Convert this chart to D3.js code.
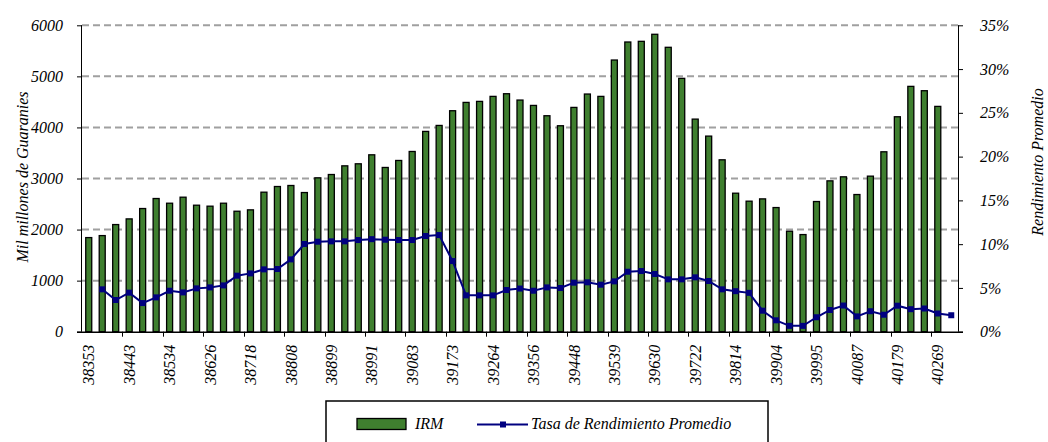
<!DOCTYPE html>
<html>
<head>
<meta charset="utf-8">
<script src="https://cdn.jsdelivr.net/npm/d3@7"></script>
<style>
  body { margin: 0; background: #fff; }
  svg text { font-style: italic; fill: #000; }
</style>
</head>
<body>
<svg id="chart" width="1048" height="442"></svg>
<script>
// categorias: fechas (numero de serie Excel), ene 2005 - may 2010
var fechas = [38353, 38384, 38412, 38443, 38473, 38504, 38534, 38565, 38596, 38626, 38657, 38687,
  38718, 38749, 38777, 38808, 38838, 38869, 38899, 38930, 38961, 38991, 39022, 39052,
  39083, 39114, 39142, 39173, 39203, 39234, 39264, 39295, 39326, 39356, 39387, 39417,
  39448, 39479, 39508, 39539, 39569, 39600, 39630, 39661, 39692, 39722, 39753, 39783,
  39814, 39845, 39873, 39904, 39934, 39965, 39995, 40026, 40057, 40087, 40118, 40148,
  40179, 40210, 40238, 40269, 40299];

// IRM (mil millones de guaranies)
var irm = [1843, 1882, 2098, 2209, 2412, 2608, 2516, 2634, 2477, 2458, 2516,
  2359, 2386, 2732, 2843, 2863, 2725, 3013, 3078, 3248, 3288, 3464,
  3216, 3353, 3529, 3922, 4039, 4327, 4490, 4510, 4608, 4660, 4536,
  4431, 4229, 4033, 4392, 4654, 4608, 5320, 5673, 5686, 5824,
  5569, 4961, 4163, 3830, 3366, 2712, 2556, 2601, 2431, 1967, 1902,
  2549, 2954, 3033, 2686, 3046, 3523, 4209, 4804, 4719, 4412, null];

// Tasa de rendimiento promedio (%)
var tasa = [null, 4.84, 3.62, 4.46, 3.27, 3.92, 4.68, 4.49, 4.95, 5.06, 5.29,
  6.40, 6.66, 7.12, 7.16, 8.26, 10.02, 10.28, 10.32, 10.32, 10.47, 10.57,
  10.51, 10.47, 10.47, 10.93, 11.04, 8.07, 4.15, 4.15, 4.15, 4.76, 4.93,
  4.68, 5.06, 4.99, 5.60, 5.64, 5.37, 5.75, 6.85, 6.93, 6.59,
  5.98, 5.98, 6.21, 5.79, 4.84, 4.63, 4.44, 2.40, 1.30, 0.67, 0.67,
  1.65, 2.48, 2.99, 1.75, 2.34, 1.94, 2.97, 2.57, 2.65, 2.08, 1.88];

var ticksIzq = [0, 1000, 2000, 3000, 4000, 5000, 6000];
var ticksDer = [0, 5, 10, 15, 20, 25, 30, 35];
var etiquetasX = [38353, 38443, 38534, 38626, 38718, 38808, 38899, 38991, 39083, 39173, 39264,
  39356, 39448, 39539, 39630, 39722, 39814, 39904, 39995, 40087, 40179, 40269];

var fuente = "16px";
var familia = "'Liberation Serif', 'Times New Roman', serif";
var svg = d3.select("#chart");
var izq = 82, der = 958, arriba = 25.3, abajo = 331.7;

var x = d3.scaleBand().domain(fechas).range([izq, der]).padding(0);
var y = d3.scaleLinear().domain([0, 6000]).range([abajo, arriba]);
var y2 = d3.scaleLinear().domain([0, 35]).range([abajo, arriba]);

// grilla
svg.append("g").selectAll("line")
  .data(ticksIzq.filter(function(d){ return d > 0; })).enter()
  .append("line")
  .attr("x1", izq).attr("x2", der)
  .attr("y1", function(d){ return y(d); }).attr("y2", function(d){ return y(d); })
  .attr("stroke", "#a0a0a0").attr("stroke-width", 2).attr("stroke-dasharray", "7,4");

// barras
var bw = 6;
svg.append("g").selectAll("rect")
  .data(fechas.map(function(f, i){ return {f: f, v: irm[i]}; }).filter(function(d){ return d.v != null; }))
  .enter().append("rect")
  .attr("x", function(d){ return x(d.f) + x.bandwidth() / 2 - bw / 2; })
  .attr("y", function(d){ return y(d.v); })
  .attr("width", bw)
  .attr("height", function(d){ return abajo - y(d.v); })
  .attr("fill", "#3f7f2f").attr("stroke", "#000").attr("stroke-width", 1.3);

// linea
var puntos = fechas.map(function(f, i){ return {f: f, v: tasa[i]}; }).filter(function(d){ return d.v != null; });
var linea = d3.line()
  .x(function(d){ return x(d.f) + x.bandwidth() / 2; })
  .y(function(d){ return y2(d.v); });
svg.append("path").datum(puntos)
  .attr("d", linea).attr("fill", "none").attr("stroke", "#000080").attr("stroke-width", 2);
svg.append("g").selectAll("rect")
  .data(puntos).enter().append("rect")
  .attr("x", function(d){ return x(d.f) + x.bandwidth() / 2 - 3; })
  .attr("y", function(d){ return y2(d.v) - 3; })
  .attr("width", 6).attr("height", 6)
  .attr("fill", "#000080");

// ejes
var ejeY = d3.axisLeft(y).tickValues(ticksIzq).tickSize(5).tickPadding(14).tickFormat(d3.format("d"));
var gY = svg.append("g").attr("transform", "translate(" + izq + ",0)").call(ejeY);
gY.select(".domain").attr("d", "M-0.5," + arriba + "V" + abajo).attr("stroke", "#000");

var ejeY2 = d3.axisRight(y2).tickValues(ticksDer).tickSize(5).tickPadding(17).tickFormat(function(d){ return d + "%"; });
var gY2 = svg.append("g").attr("transform", "translate(" + der + ",0)").call(ejeY2);
gY2.select(".domain").attr("d", "M0.5," + arriba + "V" + abajo).attr("stroke", "#000");

// eje x
var gX = svg.append("g");
gX.append("line").attr("x1", izq - 5).attr("x2", der + 5).attr("y1", abajo + 0.5).attr("y2", abajo + 0.5)
  .attr("stroke", "#000").attr("stroke-width", 1.5);
gX.selectAll("line.tick")
  .data(fechas.filter(function(d, i){ return i % 3 == 0 && i > 0; })).enter()
  .append("line").attr("class", "tick")
  .attr("x1", function(d){ return Math.round(x(d)) + 0.5; }).attr("x2", function(d){ return Math.round(x(d)) + 0.5; })
  .attr("y1", abajo).attr("y2", abajo + 5)
  .attr("stroke", "#000");
gX.selectAll("text")
  .data(etiquetasX).enter().append("text")
  .attr("transform", function(d){ return "translate(" + (x(d) + x.bandwidth() / 2) + "," + (abajo + 13) + ") rotate(-90)"; })
  .attr("text-anchor", "end").attr("dy", "0.35em")
  .text(function(d){ return d; });

// titulos
svg.append("text")
  .attr("transform", "translate(22,177) rotate(-90)")
  .attr("text-anchor", "middle").attr("dy", "0.35em")
  .text("Mil millones de Guaranies");
svg.append("text")
  .attr("transform", "translate(1037,162) rotate(-90)")
  .attr("text-anchor", "middle").attr("dy", "0.35em")
  .text("Rendimiento Promedio");

// leyenda
var ley = svg.append("g");
ley.append("rect").attr("x", 326).attr("y", 401).attr("width", 442).attr("height", 60)
  .attr("fill", "#fff").attr("stroke", "#000").attr("stroke-width", 1.5);
ley.append("rect").attr("x", 357).attr("y", 418.5).attr("width", 49).attr("height", 11)
  .attr("fill", "#3f7f2f").attr("stroke", "#000").attr("stroke-width", 1.3);
ley.append("text").attr("x", 415).attr("y", 429).text("IRM");
ley.append("line").attr("x1", 477).attr("x2", 528).attr("y1", 424.5).attr("y2", 424.5)
  .attr("stroke", "#000080").attr("stroke-width", 2);
ley.append("rect").attr("x", 500).attr("y", 421.5).attr("width", 6).attr("height", 6).attr("fill", "#000080");
ley.append("text").attr("x", 531).attr("y", 429).text("Tasa de Rendimiento Promedio");

// fuente en todos los textos
svg.selectAll("g").attr("font-family", null).attr("font-size", null);
svg.selectAll("text")
  .attr("font-family", familia)
  .attr("font-size", fuente)
  .style("font-family", familia)
  .style("font-size", fuente)
  .style("font-style", "italic");
</script>
</body>
</html>
